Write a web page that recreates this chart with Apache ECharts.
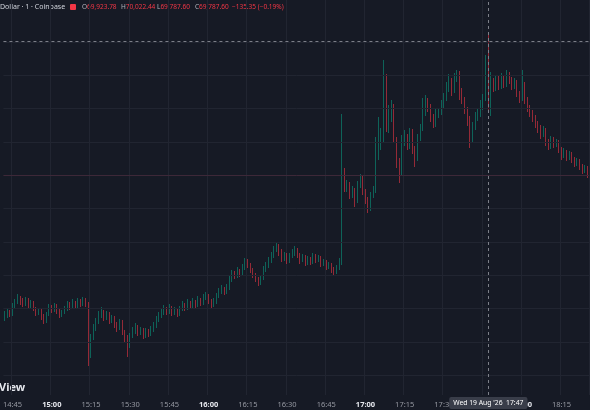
<!DOCTYPE html>
<html>
<head>
<meta charset="utf-8">
<script src="https://cdn.jsdelivr.net/npm/echarts@6/dist/echarts.min.js"></script>
<style>
html, body { margin: 0; padding: 0; background: #161a25; }
#chart { width: 590px; height: 410px; }
</style>
</head>
<body>
<div id="chart"></div>
<script>
// 1-minute candles, 14:42 -> 18:25
const startHour = 14, startMinute = 42;

const opens = [
  69172, 69178, 69190, 69184, 69208, 69220, 69232, 69223, 69214, 69226,
  69208, 69217, 69199, 69187, 69193, 69175, 69163, 69184, 69205, 69196,
  69208, 69193, 69181, 69190, 69199, 69214, 69205, 69217, 69208, 69220,
  69214, 69223, 69211, 69061, 69112, 69142, 69160, 69178, 69190, 69172,
  69184, 69163, 69172, 69151, 69142, 69160, 69130, 69112, 69094, 69118,
  69133, 69145, 69127, 69136, 69118, 69133, 69124, 69136, 69148, 69166,
  69178, 69187, 69196, 69190, 69202, 69187, 69196, 69184, 69199, 69211,
  69202, 69217, 69208, 69220, 69211, 69226, 69217, 69232, 69238, 69223,
  69211, 69220, 69238, 69250, 69259, 69250, 69262, 69286, 69304, 69298,
  69313, 69304, 69322, 69340, 69331, 69316, 69301, 69289, 69277, 69292,
  69316, 69328, 69343, 69358, 69376, 69388, 69370, 69352, 69361, 69343,
  69358, 69367, 69376, 69361, 69346, 69355, 69337, 69349, 69340, 69358,
  69346, 69352, 69334, 69340, 69325, 69331, 69316, 69310, 69322, 69340,
  69586, 69562, 69574, 69541, 69556, 69526, 69571, 69592, 69550, 69526,
  69502, 69541, 69556, 69661, 69691, 69706, 69892, 69742, 69772, 69802,
  69706, 69631, 69610, 69700, 69712, 69688, 69730, 69676, 69652, 69712,
  69742, 69790, 69817, 69802, 69772, 69754, 69784, 69790, 69808, 69832,
  69862, 69880, 69856, 69892, 69904, 69850, 69826, 69796, 69766, 69712,
  69748, 69772, 69784, 69808, 69832, 69923.78, 69787.6, 69880, 69862, 69886,
  69868, 69892, 69874, 69898, 69886, 69868, 69880, 69844, 69832, 69874,
  69826, 69802, 69787, 69772, 69754, 69742, 69724, 69736, 69700, 69688,
  69706, 69691, 69700, 69676, 69658, 69670, 69652, 69664, 69646, 69637,
  69643, 69625, 69616, 69622
];
const closes = [
  69178, 69190, 69184, 69208, 69220, 69232, 69223, 69214, 69226, 69208,
  69217, 69199, 69187, 69193, 69175, 69163, 69184, 69205, 69196, 69208,
  69193, 69181, 69190, 69199, 69214, 69205, 69217, 69208, 69220, 69214,
  69223, 69211, 69061, 69112, 69142, 69160, 69178, 69190, 69172, 69184,
  69163, 69172, 69151, 69142, 69160, 69130, 69112, 69094, 69118, 69133,
  69145, 69127, 69136, 69118, 69133, 69124, 69136, 69148, 69166, 69178,
  69187, 69196, 69190, 69202, 69187, 69196, 69184, 69199, 69211, 69202,
  69217, 69208, 69220, 69211, 69226, 69217, 69232, 69238, 69223, 69211,
  69220, 69238, 69250, 69259, 69250, 69262, 69286, 69304, 69298, 69313,
  69304, 69322, 69340, 69331, 69316, 69301, 69289, 69277, 69292, 69316,
  69328, 69343, 69358, 69376, 69388, 69370, 69352, 69361, 69343, 69358,
  69367, 69376, 69361, 69346, 69355, 69337, 69349, 69340, 69358, 69346,
  69352, 69334, 69340, 69325, 69331, 69316, 69310, 69322, 69340, 69586,
  69562, 69574, 69541, 69556, 69526, 69571, 69592, 69550, 69526, 69502,
  69541, 69556, 69661, 69691, 69706, 69892, 69742, 69772, 69802, 69706,
  69631, 69610, 69700, 69712, 69688, 69730, 69676, 69652, 69712, 69742,
  69790, 69817, 69802, 69772, 69754, 69784, 69790, 69808, 69832, 69862,
  69880, 69856, 69892, 69904, 69850, 69826, 69796, 69766, 69712, 69748,
  69772, 69784, 69808, 69832, 69925, 69787.6, 69880, 69862, 69886, 69868,
  69892, 69874, 69898, 69886, 69868, 69880, 69844, 69832, 69874, 69826,
  69802, 69787, 69772, 69754, 69742, 69724, 69736, 69700, 69688, 69706,
  69691, 69700, 69676, 69658, 69670, 69652, 69664, 69646, 69637, 69643,
  69625, 69616, 69622, 69601
];
const lows = [
  69163, 69172, 69175, 69178, 69202, 69214, 69211, 69205, 69208, 69199,
  69202, 69193, 69178, 69181, 69166, 69154, 69157, 69178, 69187, 69190,
  69184, 69172, 69175, 69184, 69193, 69196, 69199, 69202, 69202, 69205,
  69208, 69205, 69028, 69052, 69106, 69133, 69154, 69172, 69163, 69166,
  69154, 69157, 69142, 69130, 69136, 69121, 69100, 69055, 69082, 69112,
  69124, 69118, 69121, 69109, 69112, 69115, 69118, 69130, 69142, 69160,
  69172, 69181, 69181, 69184, 69178, 69181, 69175, 69178, 69193, 69193,
  69196, 69199, 69202, 69202, 69205, 69208, 69211, 69226, 69214, 69199,
  69205, 69214, 69232, 69244, 69241, 69244, 69256, 69280, 69289, 69292,
  69295, 69298, 69316, 69322, 69307, 69292, 69280, 69268, 69271, 69286,
  69310, 69322, 69337, 69352, 69370, 69358, 69340, 69343, 69334, 69337,
  69352, 69358, 69352, 69334, 69340, 69328, 69331, 69331, 69334, 69337,
  69340, 69325, 69328, 69316, 69319, 69307, 69298, 69304, 69316, 69331,
  69550, 69550, 69529, 69532, 69505, 69517, 69562, 69541, 69514, 69487,
  69493, 69532, 69547, 69646, 69676, 69700, 69730, 69727, 69760, 69697,
  69622, 69577, 69601, 69688, 69676, 69679, 69664, 69625, 69643, 69703,
  69733, 69778, 69790, 69760, 69742, 69745, 69772, 69781, 69799, 69823,
  69850, 69838, 69847, 69880, 69826, 69814, 69784, 69748, 69682, 69700,
  69736, 69763, 69775, 69796, 69823, 69787.6, 69778, 69850, 69853, 69856,
  69859, 69862, 69865, 69874, 69856, 69859, 69835, 69817, 69823, 69814,
  69790, 69775, 69760, 69742, 69727, 69709, 69715, 69688, 69676, 69679,
  69682, 69685, 69667, 69646, 69652, 69643, 69646, 69637, 69625, 69628,
  69616, 69604, 69607, 69592
];
const highs = [
  69193, 69199, 69196, 69217, 69229, 69244, 69238, 69232, 69235, 69232,
  69226, 69223, 69205, 69202, 69199, 69184, 69190, 69214, 69211, 69217,
  69214, 69199, 69196, 69208, 69223, 69220, 69229, 69223, 69232, 69229,
  69235, 69232, 69220, 69124, 69154, 69172, 69193, 69205, 69196, 69193,
  69190, 69181, 69178, 69160, 69169, 69166, 69136, 69121, 69127, 69145,
  69157, 69151, 69145, 69142, 69142, 69139, 69148, 69160, 69178, 69190,
  69199, 69211, 69205, 69214, 69208, 69205, 69202, 69208, 69223, 69217,
  69229, 69223, 69232, 69226, 69238, 69232, 69244, 69250, 69244, 69229,
  69232, 69247, 69262, 69271, 69265, 69274, 69298, 69316, 69313, 69325,
  69319, 69334, 69352, 69349, 69337, 69322, 69307, 69295, 69301, 69328,
  69340, 69355, 69370, 69388, 69400, 69394, 69379, 69370, 69367, 69367,
  69379, 69388, 69382, 69367, 69364, 69361, 69358, 69355, 69367, 69364,
  69361, 69358, 69349, 69346, 69340, 69337, 69325, 69331, 69352, 69784,
  69622, 69586, 69580, 69568, 69562, 69583, 69604, 69601, 69559, 69535,
  69550, 69568, 69715, 69775, 69742, 69946, 69904, 69811, 69826, 69814,
  69715, 69652, 69721, 69736, 69724, 69742, 69739, 69688, 69724, 69754,
  69832, 69841, 69832, 69814, 69784, 69799, 69802, 69826, 69847, 69880,
  69904, 69892, 69907, 69916, 69913, 69862, 69835, 69805, 69778, 69760,
  69790, 69802, 69826, 69844, 69961, 70022.44, 69910, 69892, 69901, 69898,
  69907, 69901, 69916, 69910, 69895, 69892, 69886, 69853, 69916, 69880,
  69835, 69811, 69796, 69781, 69763, 69751, 69748, 69742, 69709, 69718,
  69715, 69709, 69706, 69685, 69682, 69676, 69673, 69670, 69655, 69652,
  69649, 69634, 69631, 69628
];

const gridPrices = [69000, 69100, 69200, 69300, 69400, 69500, 69700, 69800, 69900, 70000];
const lastPrice = 69601;
const crosshairTime = '17:47';
const crosshairPrice = 70003;
const crosshairLabel = "Wed 19 Aug '26  17:47";

const UP = '#089981';
const DOWN = '#f23645';

const times = [];
for (let i = 0; i < opens.length; i++) {
  const m = startHour * 60 + startMinute + i;
  times.push(String(Math.floor(m / 60)).padStart(2, '0') + ':' + String(m % 60).padStart(2, '0'));
}
const candles = opens.map((o, i) => [o, closes[i], lows[i], highs[i]]);

const everyQuarter = (idx, val) => Number(val.slice(3)) % 15 === 0;

const chart = echarts.init(document.getElementById('chart'));
chart.setOption({
  animation: false,
  backgroundColor: '#161a25',
  textStyle: { fontFamily: '"Noto Sans", sans-serif' },
  grid: { left: 0, right: 1, top: 0, bottom: 15 },
  xAxis: {
    type: 'category',
    data: times,
    boundaryGap: true,
    axisLine: { show: false },
    axisTick: { show: false },
    axisLabel: {
      interval: everyQuarter,
      color: '#9598a1',
      fontSize: 7.5,
      margin: 6,
      formatter: v => v.endsWith(':00') ? '{b|' + v + '}' : v,
      rich: { b: { color: '#e6e8ee', fontWeight: 'bold', fontSize: 7.5 } }
    },
    splitLine: { show: true, interval: everyQuarter, lineStyle: { color: '#212531', width: 1 } }
  },
  yAxis: {
    type: 'value',
    min: 68941,
    max: 70126,
    show: false,
    splitLine: { show: false }
  },
  series: [
    {
      // horizontal price grid
      type: 'line',
      data: [],
      silent: true,
      z: 0,
      markLine: {
        symbol: ['none', 'none'],
        silent: true,
        label: { show: false },
        lineStyle: { color: '#212531', type: 'solid', width: 1 },
        data: gridPrices.map(p => ({ yAxis: p }))
      }
    },
    {
      type: 'candlestick',
      data: candles,
      barWidth: '42%',
      itemStyle: {
        color: UP, color0: DOWN,
        borderColor: UP, borderColor0: DOWN,
        borderWidth: 0.8,
        opacity: 0.72
      },
      markLine: {
        symbol: ['none', 'none'],
        silent: true,
        label: { show: false },
        data: [
          { yAxis: lastPrice, lineStyle: { color: '#3d2838', type: 'solid', width: 1, opacity: 1 } },
          { yAxis: crosshairPrice, lineStyle: { color: '#7c7f88', type: [3, 3], width: 1 } },
          {
            xAxis: crosshairTime,
            lineStyle: { color: '#7c7f88', type: [3, 3], width: 1 },
            label: {
              show: true,
              position: 'start',
              distance: 2,
              formatter: crosshairLabel,
              color: '#ffffff',
              fontSize: 6.8,
              backgroundColor: '#393d49',
              padding: [3, 4, 2, 4],
              borderRadius: 2
            }
          }
        ]
      }
    }
  ],
  graphic: [
    { type: 'text', left: 0, top: 3.5, style: { text: 'Dollar · 1 · Coinbase', fill: '#d1d4dc', font: '7px "Noto Sans"' } },
    { type: 'rect', left: 70, top: 4, shape: { width: 6, height: 6, r: 1 }, style: { fill: DOWN } },
    { type: 'text', left: 82, top: 3.5, style: { text: 'O{r|69,923.78}', fill: '#b2b5be', font: '6.5px "Noto Sans"', rich: { r: { fill: DOWN, font: '6.5px "Noto Sans"' } } } },
    { type: 'text', left: 121, top: 3.5, style: { text: 'H{r|70,022.44}', fill: '#b2b5be', font: '6.5px "Noto Sans"', rich: { r: { fill: DOWN, font: '6.5px "Noto Sans"' } } } },
    { type: 'text', left: 157, top: 3.5, style: { text: 'L{r|69,787.60}', fill: '#b2b5be', font: '6.5px "Noto Sans"', rich: { r: { fill: DOWN, font: '6.5px "Noto Sans"' } } } },
    { type: 'text', left: 195, top: 3.5, style: { text: 'C{r|69,787.60}', fill: '#b2b5be', font: '6.5px "Noto Sans"', rich: { r: { fill: DOWN, font: '6.5px "Noto Sans"' } } } },
    { type: 'text', left: 232, top: 3.5, style: { text: '−135.35 (−0.19%)', fill: DOWN, font: '6.5px "Noto Sans"' } },
    { type: 'text', left: -1, top: 382, style: { text: 'View', fill: '#e6e8ee', font: 'bold 11px "Noto Sans"' } }
  ]
});
</script>
</body>
</html>
